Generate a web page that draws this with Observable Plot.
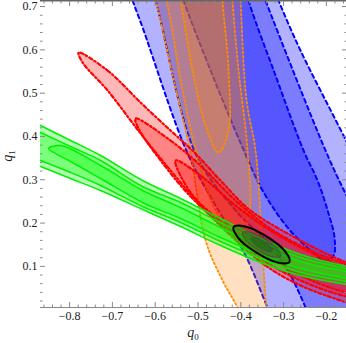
<!DOCTYPE html>
<html><head><meta charset="utf-8">
<script src="https://cdn.jsdelivr.net/npm/d3@7"></script>
<script src="https://cdn.jsdelivr.net/npm/@observablehq/plot@0.6"></script>
<style>
body{margin:0;background:#fff}
g[stroke="#0000ff"] path{stroke-dasharray:4 3.5 !important}
g[stroke="#ff8c00"] path{stroke-dasharray:1.6 2.6 !important}
g[stroke="#ff0000"] path{stroke-dasharray:3.5 2.5 1.5 2.5 !important}
</style>
</head><body><div id="chart"></div>
<script>
const xDomain = [-0.868, -0.153];
const yDomain = [0.005, 0.714];
const xTicks = [-0.8, -0.7, -0.6, -0.5, -0.4, -0.3, -0.2];
const yTicks = [0.1, 0.2, 0.3, 0.4, 0.5, 0.6, 0.7];
const xMinor = [-0.86,-0.84,-0.82,-0.78,-0.76,-0.74,-0.72,-0.68,-0.66,-0.64,-0.62,-0.58,-0.56,-0.54,-0.52,-0.48,-0.46,-0.44,-0.42,-0.38,-0.36,-0.34,-0.32,-0.28,-0.26,-0.24,-0.22,-0.18,-0.16];
const yMinor = [0.02,0.04,0.06,0.08,0.12,0.14,0.16,0.18,0.22,0.24,0.26,0.28,0.32,0.34,0.36,0.38,0.42,0.44,0.46,0.48,0.52,0.54,0.56,0.58,0.62,0.64,0.66,0.68];

// contour outlines [q0, q1]
const blueOuter = [[-0.6855,0.8063],[-0.6528,0.7139],[-0.6295,0.6516],[-0.5244,0.3606],[-0.4589,0.2406],[-0.3889,0.1251],[-0.3375,0.0050],[-0.2954,-0.0827],[-0.1904,-0.1520],[-0.0268,-0.0481],[-0.0268,0.1367],[-0.1576,0.3976],[-0.2604,0.5984],[-0.3118,0.7139],[-0.3492,0.8063]];
const blueMid = [[-0.6295,0.8063],[-0.5991,0.7139],[-0.5057,0.3606],[-0.4122,0.2290],[-0.3305,0.1482],[-0.2838,0.0789],[-0.2487,0.0050],[-0.2137,-0.0827],[-0.0969,-0.1173],[0.0199,0.0212],[-0.0969,0.1598],[-0.1553,0.2683],[-0.2020,0.3676],[-0.3422,0.7139],[-0.3772,0.8063]];
const blueInner = [[-0.5641,0.8063],[-0.5337,0.7139],[-0.4659,0.5407],[-0.3959,0.3745],[-0.3492,0.2752],[-0.2908,0.1898],[-0.2371,0.1367],[-0.2020,0.1136],[-0.1833,0.1251],[-0.1810,0.1667],[-0.1950,0.2221],[-0.2207,0.2983],[-0.2534,0.3676],[-0.3188,0.5407],[-0.3819,0.7139],[-0.4052,0.8063]];

const orangeOuter = [[-0.6272,0.8063],[-0.5991,0.7139],[-0.5594,0.5407],[-0.5174,0.3606],[-0.4823,0.1598],[-0.4426,0.0674],[-0.4076,0.0050],[-0.3655,-0.0827],[-0.3305,-0.0481],[-0.3398,0.0050],[-0.3492,0.1367],[-0.3655,0.3676],[-0.3865,0.4830],[-0.4006,0.7139],[-0.4052,0.8063]];
const orangeMid = [[-0.5991,0.8063],[-0.5734,0.7139],[-0.5361,0.5061],[-0.4987,0.3445],[-0.4589,0.2290],[-0.4122,0.1713],[-0.3819,0.2175],[-0.3842,0.3676],[-0.4052,0.5523],[-0.4193,0.7139],[-0.4239,0.8063]];
const orangeInner = [[-0.5594,0.8063],[-0.5407,0.7139],[-0.5127,0.5523],[-0.4823,0.4253],[-0.4520,0.3629],[-0.4286,0.4137],[-0.4286,0.5523],[-0.4426,0.7139],[-0.4473,0.8063]];

const redOuter = [[-0.7790,0.5938],[-0.7112,0.5523],[-0.6342,0.4784],[-0.5641,0.4137],[-0.5127,0.3676],[-0.4473,0.2983],[-0.3772,0.2290],[-0.2604,0.1598],[-0.1529,0.1090],[-0.0736,0.0859],[-0.0736,-0.0065],[-0.1529,0.0166],[-0.2604,0.0558],[-0.3422,0.1020],[-0.4239,0.1713],[-0.4940,0.2406],[-0.5641,0.3214],[-0.6342,0.4068],[-0.7112,0.5061],[-0.7696,0.5707]];
const redMid = [[-0.6459,0.4414],[-0.5641,0.3906],[-0.4940,0.3329],[-0.4122,0.2521],[-0.3305,0.1874],[-0.2371,0.1367],[-0.1529,0.1043],[-0.0736,0.0789],[-0.0736,0.0212],[-0.1529,0.0304],[-0.2604,0.0674],[-0.3538,0.1182],[-0.4356,0.1874],[-0.5174,0.2613],[-0.5874,0.3445],[-0.6389,0.4183]];
const redInner = [[-0.5524,0.3445],[-0.4940,0.3098],[-0.4122,0.2406],[-0.3305,0.1828],[-0.2371,0.1320],[-0.1529,0.0951],[-0.0736,0.0674],[-0.0736,0.0304],[-0.1529,0.0397],[-0.2604,0.0789],[-0.3538,0.1320],[-0.4356,0.1944],[-0.5174,0.2706]];

const greenOuter = [[-0.9378,0.4599],[-0.8678,0.4253],[-0.7977,0.3906],[-0.7276,0.3560],[-0.6295,0.2983],[-0.5407,0.2567],[-0.4473,0.2105],[-0.3538,0.1644],[-0.2604,0.1274],[-0.1529,0.0997],[-0.0736,0.0859],[-0.0736,0.0443],[-0.1529,0.0581],[-0.2604,0.0789],[-0.3538,0.1090],[-0.4473,0.1482],[-0.5407,0.1921],[-0.6295,0.2313],[-0.7276,0.2752],[-0.7977,0.3029],[-0.8678,0.3306],[-0.9378,0.3560]];
const greenMid = [[-0.9378,0.4414],[-0.8678,0.4091],[-0.7977,0.3768],[-0.7276,0.3445],[-0.6295,0.2844],[-0.5407,0.2475],[-0.4473,0.2013],[-0.3538,0.1574],[-0.2604,0.1205],[-0.1529,0.0951],[-0.0736,0.0812],[-0.0736,0.0489],[-0.1529,0.0651],[-0.2604,0.0859],[-0.3538,0.1182],[-0.4473,0.1575],[-0.5407,0.2013],[-0.6295,0.2383],[-0.7276,0.2867],[-0.7977,0.3168],[-0.8678,0.3445],[-0.9378,0.3722]];
const greenInner = [[-0.8491,0.3722],[-0.8210,0.3791],[-0.7276,0.3329],[-0.6295,0.2752],[-0.5407,0.2359],[-0.4473,0.1898],[-0.3538,0.1482],[-0.2604,0.1113],[-0.1529,0.0882],[-0.0736,0.0743],[-0.0736,0.0558],[-0.1529,0.0720],[-0.2604,0.0951],[-0.3538,0.1274],[-0.4473,0.1667],[-0.5407,0.2105],[-0.6295,0.2475],[-0.7276,0.3029],[-0.7977,0.3422],[-0.8327,0.3606]];

const jointOuter = [[-0.2861,0.1101],[-0.3137,0.1087],[-0.3632,0.1318],[-0.4062,0.1660],[-0.4169,0.1909],[-0.3893,0.1923],[-0.3398,0.1692],[-0.2968,0.1350]];
const jointMid = [[-0.3070,0.1230],[-0.3258,0.1221],[-0.3595,0.1378],[-0.3887,0.1610],[-0.3960,0.1780],[-0.3772,0.1789],[-0.3435,0.1632],[-0.3143,0.1400]];
const jointInner = [[-0.3266,0.1351],[-0.3371,0.1346],[-0.3559,0.1434],[-0.3723,0.1564],[-0.3764,0.1659],[-0.3659,0.1664],[-0.3471,0.1576],[-0.3307,0.1446]];

const X = d => d[0], Y = d => d[1];
function region(data, o) {
  return Plot.line(data, {x: X, y: Y, curve: "catmull-rom-closed", clip: true, ...o});
}
const blueStyle = {fill: "#0000ff", fillOpacity: 0.3, stroke: "#0000ff", strokeWidth: 2, strokeDasharray: "4 3.5"};
const orangeStyle = {fill: "#ff8000", fillOpacity: 0.24, stroke: "#ff8c00", strokeWidth: 1.8, strokeDasharray: "1.6 2.6"};
const redStyle = {fill: "#ff0000", fillOpacity: 0.28, stroke: "#ff0000", strokeWidth: 2.2, strokeDasharray: "3.5 2.5 1.5 2.5"};
const greenStyle = {fill: "#00ff00", fillOpacity: 0.3, stroke: "#00f000", strokeWidth: 1.5};

const axisFont = {fontFamily: "Liberation Serif", fontSize: 12, fill: "#222"};
const tickColor = "#888";

const chart = Plot.plot({
  width: 346, height: 343,
  marginLeft: 40, marginRight: 0, marginTop: 0, marginBottom: 36,
  style: {fontFamily: "Liberation Serif", fontSize: "12px", background: "#fff"},
  x: {domain: xDomain, axis: null},
  y: {domain: yDomain, axis: null},
  marks: [
    region(blueOuter, blueStyle),
    region(blueMid, blueStyle),
    region(blueInner, blueStyle),
    region(orangeOuter, orangeStyle),
    region(orangeMid, orangeStyle),
    region(orangeInner, orangeStyle),
    region(redOuter, redStyle),
    region(redMid, redStyle),
    region(redInner, redStyle),
    region(greenOuter, greenStyle),
    region(greenMid, greenStyle),
    region(greenInner, greenStyle),
    region(jointOuter, {fill: "#1a1a1a", fillOpacity: 0.22, stroke: "#000", strokeWidth: 2}),
    region(jointMid, {fill: "#1a1a1a", fillOpacity: 0.2, stroke: "#4a4a4a", strokeWidth: 1}),
    region(jointInner, {fill: "#1a1a1a", fillOpacity: 0.2, stroke: "#4a4a4a", strokeWidth: 1}),
    Plot.ruleY([yDomain[0]], {stroke: "#888", strokeWidth: 1}),
    Plot.ruleY([yDomain[1]], {stroke: "#666", strokeWidth: 2}),
    // inward ticks (axes shifted into the frame)
    Plot.axisX({anchor: "bottom", ticks: xTicks, tickSize: 5, dy: -5, tickFormat: () => "", label: null, stroke: tickColor}),
    Plot.axisX({anchor: "bottom", ticks: xMinor, tickSize: 2.5, dy: -2.5, tickFormat: () => "", label: null, stroke: tickColor}),
    Plot.axisX({anchor: "top", ticks: xTicks, tickSize: 5, dy: 5, tickFormat: () => "", label: null, stroke: tickColor}),
    Plot.axisX({anchor: "top", ticks: xMinor, tickSize: 2.5, dy: 2.5, tickFormat: () => "", label: null, stroke: tickColor}),
    Plot.axisY({anchor: "left", ticks: yTicks, tickSize: 5, dx: 5, tickFormat: () => "", label: null, stroke: tickColor}),
    Plot.axisY({anchor: "left", ticks: yMinor, tickSize: 2.5, dx: 2.5, tickFormat: () => "", label: null, stroke: tickColor}),
    Plot.axisY({anchor: "right", ticks: yTicks, tickSize: 5, dx: -5, tickFormat: () => "", label: null, stroke: tickColor}),
    Plot.axisY({anchor: "right", ticks: yMinor, tickSize: 2.5, dx: -2.5, tickFormat: () => "", label: null, stroke: tickColor}),
    // labels
    Plot.axisX({anchor: "bottom", ticks: xTicks, tickSize: 0, tickPadding: 4, label: null, ...axisFont}),
    Plot.axisY({anchor: "left", ticks: yTicks, tickSize: 0, tickPadding: 3, label: null, ...axisFont})
  ]
});
document.getElementById("chart").appendChild(chart);

// axis titles with subscripts
const svg = d3.select(chart);
const tx = svg.append("text").attr("x", 193).attr("y", 337).attr("text-anchor", "middle")
  .attr("font-family", "Liberation Serif").attr("font-size", 14).attr("fill", "#222");
tx.append("tspan").attr("font-style", "italic").text("q");
tx.append("tspan").attr("font-size", 9).attr("dy", 3).text("0");
const ty = svg.append("text").attr("transform", "translate(12,156) rotate(-90)").attr("text-anchor", "middle")
  .attr("font-family", "Liberation Serif").attr("font-size", 14).attr("fill", "#222");
ty.append("tspan").attr("font-style", "italic").text("q");
ty.append("tspan").attr("font-size", 9).attr("dy", 3).text("1");
</script>
</body></html>
